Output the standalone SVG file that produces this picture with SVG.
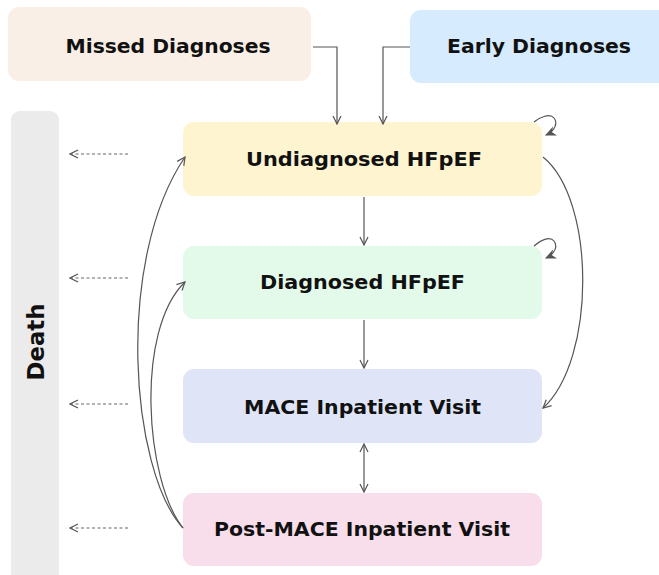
<svg xmlns="http://www.w3.org/2000/svg" width="659" height="575" viewBox="0 0 659 575">
<defs>
<style>
.t{font-family:"DejaVu Sans","Open Sans",sans-serif;font-weight:700;font-size:19.5px;fill:#111;text-anchor:middle;dominant-baseline:central}
.c{fill:none;stroke:#555;stroke-width:1.2}
.d{fill:none;stroke:#666;stroke-width:1.2;stroke-dasharray:3 2.5}
</style>
<marker id="a" viewBox="0 0 10 10" refX="9" refY="5" markerWidth="10" markerHeight="10" markerUnits="userSpaceOnUse" orient="auto-start-reverse">
<path d="M1,1 L9,5 L1,9" fill="none" stroke="#555" stroke-width="1.2"/>
</marker>
<marker id="f" viewBox="0 0 10 10" refX="9" refY="5" markerWidth="11" markerHeight="11" markerUnits="userSpaceOnUse" orient="auto">
<path d="M0,0.5 L10,5 L0,9.5 L3,5 Z" fill="#555"/>
</marker>
</defs>
<rect width="659" height="575" fill="#fff"/>
<g id="missed"><rect x="8" y="7" width="303" height="74" rx="11" fill="#FAEFE6"/><text class="t" x="168" y="46" textLength="205" lengthAdjust="spacingAndGlyphs">Missed Diagnoses</text></g>
<g id="early"><rect x="410" y="10" width="260" height="73" rx="11" fill="#D6EBFD"/><text class="t" x="539" y="46" textLength="184" lengthAdjust="spacingAndGlyphs">Early Diagnoses</text></g>
<g id="death"><rect x="11" y="111" width="48" height="475" rx="9" fill="#EBEBEB"/><text class="t" transform="translate(36,342) rotate(-90)" x="0" y="0" style="font-size:23px" textLength="77" lengthAdjust="spacingAndGlyphs">Death</text></g>
<g id="undiag"><rect x="183" y="122" width="359" height="74" rx="11" fill="#FEF5D0"/><text class="t" x="364" y="159" textLength="236" lengthAdjust="spacingAndGlyphs">Undiagnosed HFpEF</text></g>
<g id="diag"><rect x="183" y="246" width="359" height="73" rx="11" fill="#E3FAEA"/><text class="t" x="362.5" y="282" textLength="205" lengthAdjust="spacingAndGlyphs">Diagnosed HFpEF</text></g>
<g id="mace"><rect x="183" y="369" width="359" height="74" rx="11" fill="#DFE5F7"/><text class="t" x="362.5" y="407" textLength="237" lengthAdjust="spacingAndGlyphs">MACE Inpatient Visit</text></g>
<g id="post"><rect x="183" y="493" width="359" height="73" rx="11" fill="#F8DDEB"/><text class="t" x="362" y="529" textLength="296" lengthAdjust="spacingAndGlyphs">Post-MACE Inpatient Visit</text></g>
<g id="connectors">
<path class="c" d="M313,47 H337 V124" marker-end="url(#a)"/>
<path class="c" d="M410,47 H383 V124" marker-end="url(#a)"/>
<path class="c" d="M364,197 V245" marker-end="url(#a)"/>
<path class="c" d="M364,320 V368" marker-end="url(#a)"/>
<path class="c" d="M364,444 V492" marker-start="url(#a)" marker-end="url(#a)"/>
<path class="c" d="M534,122 C540,117 550,113 554,118 C558,123 555,131 546,135" marker-end="url(#f)"/>
<path class="c" d="M534,246 C540,240 550,236 554,241 C558,246 555,254 546,258" marker-end="url(#f)"/>
<path class="c" d="M543,157 C596,200 596,360 543,408" marker-end="url(#a)"/>
<path class="c" d="M183,528 C130,470 115,260 185,157" marker-end="url(#a)"/>
<path class="c" d="M183,528 C145,480 135,330 185,282" marker-end="url(#a)"/>
<path class="d" d="M128,154 H70" marker-end="url(#a)"/>
<path class="d" d="M128,278 H70" marker-end="url(#a)"/>
<path class="d" d="M128,404 H70" marker-end="url(#a)"/>
<path class="d" d="M128,528 H70" marker-end="url(#a)"/>
</g>
</svg>
